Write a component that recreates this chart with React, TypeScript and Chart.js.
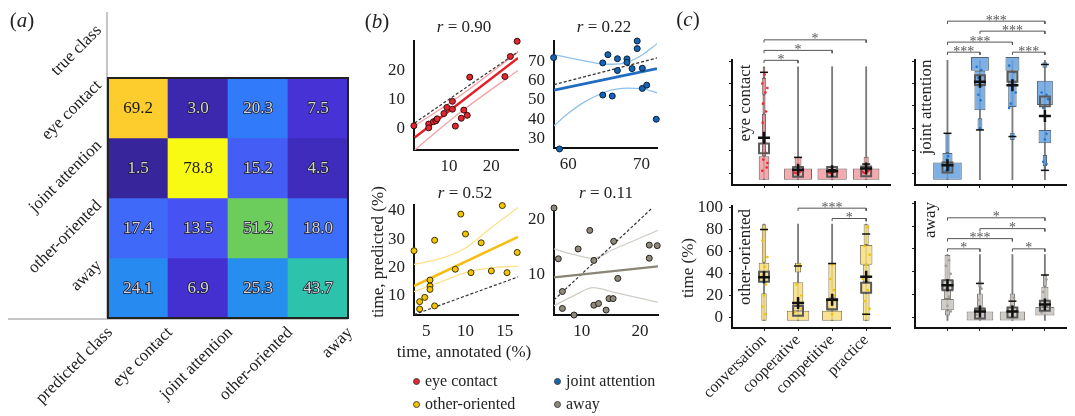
import React, { useEffect, useRef } from 'react';
import { Chart, registerables } from 'chart.js';
Chart.register(...registerables);

const SERIF = '"Liberation Serif", "DejaVu Serif", serif';

// ================= DATA =================
// (a) confusion matrix (row = true class, column = predicted class)
const matrixClasses = ['eye contact', 'joint attention', 'other-oriented', 'away'];
const confusionEye = [69.2, 3.0, 20.3, 7.5];
const confusionJoint = [1.5, 78.8, 15.2, 4.5];
const confusionOther = [17.4, 13.5, 51.2, 18.0];
const confusionAway = [24.1, 6.9, 25.3, 43.7];
const confusionRows = [confusionEye, confusionJoint, confusionOther, confusionAway];

// (b) annotated vs predicted time (%)
const eyeAnnotated = [1.7, 5.2, 5.2, 6.3, 6.9, 7.2, 8.8, 9.5, 10.8, 10.8, 11.5, 12.9, 13.5, 14.3, 14.9, 23.2, 24.5, 26.1];
const eyePredicted = [0.9, 1.5, 0.2, 2.3, 2.6, 3.3, 5.1, 7.2, 9.3, 6.6, 0.8, 3.5, 6.3, 4.5, 17.6, 17.8, 24.7, 29.9];
const eyeFit = [[1.9, -3.1], [26.3, 24.2]];
const eyeCiUpper = [[1.9, 0.9], [12, 10.6], [26.3, 26.2]];
const eyeCiLower = [[1.9, -7.4], [12, 4.8], [26.3, 19.9]];
const eyeIdentity = [1.9, 26.3];

const jointAnnotated = [58.0, 58.8, 64.7, 65.4, 64.7, 66.0, 66.7, 66.7, 68.0, 68.0, 68.7, 69.4, 69.4, 70.1, 70.1, 70.7, 72.0];
const jointPredicted = [72.3, 24.3, 69.5, 73.8, 52.6, 52.1, 71.7, 65.5, 71.6, 69.8, 66.5, 81.0, 77.0, 66.7, 56.1, 57.8, 39.9];
const jointFit = [[58.05, 55.2], [72.1, 66.5]];
const jointCiUpper = [[58.05, 73.8], [61, 71.5], [64, 69.3], [66, 68.8], [68, 69.8], [70, 73.5], [72.1, 79.6]];
const jointCiLower = [[58.05, 36.4], [60, 43], [62, 48.5], [64, 52.5], [66, 55.3], [68, 56.3], [70, 56], [72.1, 53.8]];
const jointIdentity = [58.05, 72.1];

const otherAnnotated = [3.43, 4.15, 4.15, 4.8, 5.47, 5.47, 5.47, 6.06, 6.06, 8.7, 9.4, 10.0, 10.7, 12.0, 13.3, 14.7, 15.3, 16.6];
const otherPredicted = [25.9, 8.0, 5.4, 9.5, 15.6, 13.5, 12.3, 29.6, 6.5, 19.4, 38.8, 31.8, 18.2, 28.7, 18.8, 41.8, 18.2, 25.3];
const otherFit = [[3.43, 13.5], [16.7, 30.8]];
const otherCiUpper = [[3.43, 21.1], [6.9, 23.2], [9.9, 26.7], [12.9, 33.2], [16.7, 41.1]];
const otherCiLower = [[3.43, 11.5], [6.9, 15], [10.3, 18.5], [13.7, 20], [16.7, 20.5]];
const otherIdentity = [3.43, 16.7];

const awayAnnotated = [5.26, 6.0, 6.7, 6.7, 8.7, 9.4, 11.4, 12.1, 12.1, 12.9, 14.2, 14.7, 15.4, 15.5, 16.2, 21.6, 21.6, 22.97];
const awayPredicted = [22.1, 12.8, 6.8, 3.7, 2.5, 14.6, 18.0, 12.5, 4.3, 4.6, 3.4, 5.5, 5.5, 16.0, 9.2, 15.3, 12.9, 15.2];
const awayFit = [[5.26, 9.4], [23.1, 11.4]];
const awayCiUpper = [[5.26, 14.6], [8.6, 13.6], [12, 12.9], [15.4, 14.5], [23.1, 18.0]];
const awayCiLower = [[5.26, 4.2], [8.6, 6.0], [12, 7.5], [15.4, 6.7], [23.1, 4.8]];
const awayIdentity = [5.26, 22.1];

const correlations = ['0.90', '0.22', '0.52', '0.11'];

// (c) time (%) per condition: letter-value boxes [condition, low, high, share]
const conditions = ['conversation', 'cooperative', 'competitive', 'practice'];
const percentTicks = [0, 20, 40, 60, 80, 100];

const eyeBoxes = [
  [0, -6, 15, 0.31], [0, 15, 53, 0.12], [0, 53, 70, 0.09], [0, 70, 85, 0.13], [0, 85, 95, 0.08],
  [1, -6, 4, 0.82], [1, 4, 14, 0.2],
  [2, -6, 4, 0.86],
  [3, -6, 4, 0.78], [3, 4, 14.5, 0.15],
];
const eyeRange = [-6, 95];
const eyeMedians = [22, 1, 1, 1.5];
const eyeMeans = [31.5, 3, 1.5, 4];
const eyeCaps = [[0, 90], [1, 14], [2, 3], [3, 8]];
const eyeObs = [[-0.05, 2], [0.08, 5], [0.1, 9], [-0.02, 12], [0.05, 18], [0.03, 28], [-0.04, 45], [0.06, 55], [-0.03, 62], [0.04, 72], [0.1, 76], [-0.05, 80], [0.02, 88],
  [0.95, 0], [1.05, 1], [1.1, 2], [0.9, 0.5], [1.0, 3], [1.02, 6],
  [1.95, 0], [2.05, 1], [2.1, 2], [1.9, 0.5], [2.0, 1.5],
  [2.95, 0], [3.05, 1.5], [3.1, 3], [2.9, 1], [3.0, 5], [3.02, 2]];
const eyeSig = [[0, 1, 100.7, '*'], [0, 2, 109.6, '*'], [0, 3, 119, '*']];

const jointBoxes = [
  [0, -6, 9.5, 0.88], [0, 9.5, 18, 0.31], [0, 18, 35.5, 0.13],
  [1, 91.3, 103.7, 0.55], [1, 56, 91.3, 0.34], [1, 38.5, 49, 0.15],
  [2, 91.3, 103.7, 0.43], [2, 59, 91.3, 0.26], [2, 29.6, 36, 0.14],
  [3, 94, 99, 0.15], [3, 60.7, 82.4, 0.49], [3, 26.7, 38.5, 0.39], [3, 6, 16, 0.13], [3, 2, 6, 0.08],
];
const jointRange = [-6, 103];
const jointMedians = [5, 83, 86, 64];
const jointMeans = [7, 81.5, 78.5, 51];
const jointCaps = [[0, 35.5], [1, 38.5], [2, 32.6], [3, 97], [3, 2.4]];
const jointObs = [[-0.05, 2], [0.05, 5], [0.1, 8], [-0.02, 12], [0.02, 15], [0.06, 3],
  [0.9, 95], [1.05, 92], [0.95, 85], [1.05, 78], [0.95, 70], [1.02, 65], [1.0, 40],
  [1.9, 96], [2.05, 90], [2.0, 83], [2.1, 72], [1.95, 62], [1.9, 58], [2.0, 33],
  [2.9, 72], [3.05, 70], [3.1, 66], [2.95, 58], [3.05, 35], [3.0, 30], [2.95, 10], [3.05, 8]];
const jointSig = [[0, 1, 108, '***'], [2, 3, 108, '***'], [0, 2, 117, '***'], [1, 3, 126.8, '***'], [0, 3, 135.7, '***']];

const otherBoxes = [
  [0, 49.7, 84.8, 0.13], [0, 32, 49.7, 0.31], [0, -3, 22, 0.16],
  [1, -3, 6, 0.66], [1, 6, 32, 0.31], [1, 41, 49.7, 0.18],
  [2, -3, 6, 0.59], [2, 6, 17.5, 0.34], [2, 17.5, 49, 0.22],
  [3, -3, 22, 0.2], [3, 22, 32, 0.34], [3, 32, 48, 0.2], [3, 48, 66, 0.37], [3, 66, 84.8, 0.15],
];
const otherRange = [-3, 85];
const otherMedians = [37, 6, 12, 27];
const otherMeans = [36.5, 13.2, 16, 37];
const otherCaps = [[0, 80], [1, 46.8], [2, 49], [3, 76], [3, 3]];
const otherObs = [[0.05, 80], [-0.05, 70], [0.1, 55], [0.02, 46], [-0.04, 38], [0.06, 30], [0.0, 20], [-0.05, 10], [0.04, 3],
  [1.05, 48], [0.95, 30], [1.1, 20], [1.0, 10], [0.9, 5], [1.05, 2], [1.1, 8],
  [2.0, 48], [1.95, 35], [2.05, 25], [2.1, 15], [1.9, 8], [2.0, 3], [2.05, 20],
  [3.05, 82], [2.95, 65], [3.1, 57], [3.0, 48], [2.9, 35], [3.05, 25], [2.95, 15], [3.1, 8], [3.0, 3]];
const otherSig = [[1, 3, 99.4, '***'], [2, 3, 90, '*']];

const awayBoxes = [
  [0, 32.5, 54.7, 0.18], [0, 23.7, 32.5, 0.39], [0, 16, 23.7, 0.22], [0, 6, 16, 0.39], [0, 1.5, 6, 0.15],
  [1, -3, 5, 0.82], [1, 5, 9, 0.29], [1, 9, 20.7, 0.18], [1, 26, 32, 0.1],
  [2, -3, 5, 0.78], [2, 5, 9, 0.29], [2, 9, 20.7, 0.16],
  [3, 1.5, 8.9, 0.59], [3, 8.9, 26.6, 0.22], [3, 26.6, 37, 0.12],
];
const awayRange = [-3, 55];
const awayMedians = [28, 3, 4, 10];
const awayMeans = [28, 5, 5, 11];
const awayCaps = [[1, 29.6], [2, 14], [3, 37]];
const awayObs = [[0.05, 50], [-0.05, 45], [0.1, 38], [0.0, 30], [-0.05, 25], [0.05, 18], [0.0, 10], [0.1, 5],
  [1.05, 25], [0.95, 15], [1.1, 8], [1.0, 3], [0.9, 2],
  [2.05, 17], [1.95, 10], [2.1, 5], [2.0, 2],
  [3.05, 33], [2.95, 22], [3.1, 14], [3.0, 8], [2.9, 4]];
const awaySig = [[0, 1, 60, '*'], [2, 3, 60, '*'], [0, 2, 69, '***'], [1, 3, 77.8, '*'], [0, 3, 87.3, '*']];

// ================= STYLE / LAYOUT =================
type Box = { l: number; t: number; w: number; h: number };
type Area = { l: number; t: number; r: number; b: number };

const cmapStops: [number, number[]][] = [
  [0, [55, 38, 155]], [0.02, [60, 40, 175]], [0.08, [70, 50, 215]], [0.155, [70, 82, 242]],
  [0.21, [62, 108, 250]], [0.245, [48, 124, 250]], [0.3, [38, 140, 240]], [0.55, [45, 195, 170]],
  [0.645, [110, 205, 90]], [0.876, [252, 205, 45]], [1, [248, 250, 20]],
];
function cmap(v: number, lo: number, hi: number) {
  const t = Math.max(0, Math.min(1, (v - lo) / (hi - lo)));
  for (let i = 1; i < cmapStops.length; i++) {
    const [t1, c1] = cmapStops[i];
    const [t0, c0] = cmapStops[i - 1];
    if (t <= t1) {
      const f = (t - t0) / (t1 - t0);
      const c = c0.map((a, k) => Math.round(a + (c1[k] - a) * f));
      return `rgb(${c[0]},${c[1]},${c[2]})`;
    }
  }
  return 'rgb(248,250,20)';
}

const pairs = (p: any[]) => p.map((q) => ({ x: q[0], y: q[1] }));
const toXY = (xs: number[], ys: number[]) => xs.map((x, i) => ({ x, y: ys[i] }));

function fixedLayout(canvas: Box, area: Area) {
  return {
    padding: { left: 0, top: area.t - canvas.t, right: canvas.l + canvas.w - area.r, bottom: 0 },
    yWidth: area.l - canvas.l,
    xHeight: canvas.t + canvas.h - area.b,
  };
}

function linAxis(min: number, max: number, ticks: number[], fix: { width?: number; height?: number }, o: any) {
  return {
    type: 'linear',
    min, max, offset: false,
    afterBuildTicks: (s: any) => { s.ticks = ticks.map((v) => ({ value: v })); },
    afterFit: (s: any) => {
      if (fix.width != null) s.width = fix.width;
      if (fix.height != null) s.height = fix.height;
    },
    grid: { display: !!o.marks, offset: false, drawOnChartArea: false, drawTicks: true, tickLength: 3, tickColor: '#222', lineWidth: 1 },
    border: { display: true, color: '#111', width: 2 },
    ticks: {
      display: !!o.labels, font: { family: SERIF, size: o.size ?? 17 }, color: '#222', padding: o.padding ?? 4,
      maxRotation: o.rot ?? 0, minRotation: o.rot ?? 0, autoSkip: false,
      ...(o.callback ? { callback: o.callback } : {}),
    },
  };
}

// ---------- (a) ----------
const matrixCanvas: Box = { l: 0, t: 0, w: 360, h: 416 };
const matrixPlugin = {
  id: 'matrixDecor',
  afterDatasetsDraw(chart: any) {
    const { ctx, chartArea: a, scales } = chart;
    const xs = scales.x, ys = scales.y;
    const colW = xs.getPixelForValue(1) - xs.getPixelForValue(0);
    ctx.save();
    ctx.strokeStyle = '#b4b4b4';
    ctx.lineWidth = 1.5;
    ctx.beginPath();
    ctx.moveTo(a.left - 1, 12); ctx.lineTo(a.left - 1, a.bottom);
    ctx.moveTo(8, a.bottom + 1); ctx.lineTo(a.right, a.bottom + 1);
    ctx.stroke();
    ctx.strokeStyle = '#222';
    ctx.lineWidth = 2;
    ctx.strokeRect(a.left, a.top, a.right - a.left, a.bottom - a.top);
    // cell values
    ctx.font = `17px ${SERIF}`;
    ctx.textAlign = 'center';
    ctx.textBaseline = 'middle';
    chart.data.datasets.forEach((_: any, r: number) => {
      const meta = chart.getDatasetMeta(r);
      meta.data.forEach((el: any, c: number) => {
        const v = confusionRows[r][c];
        const cx = el.x, cy = (el.y + el.base) / 2 + 1;
        const txt = v.toFixed(1);
        if (v > 60) {
          ctx.fillStyle = '#1a1a1a';
          ctx.fillText(txt, cx, cy);
        } else {
          ctx.lineWidth = 1.6;
          ctx.strokeStyle = '#1a1a2a';
          ctx.strokeText(txt, cx, cy);
          ctx.fillStyle = '#d4d4dc';
          ctx.fillText(txt, cx, cy);
        }
      });
    });
    // row labels
    ctx.fillStyle = '#222';
    ctx.textAlign = 'right';
    ctx.textBaseline = 'middle';
    for (let r = -1; r < 4; r++) {
      const label = r < 0 ? 'true class' : matrixClasses[r];
      const top = ys.getPixelForValue(r);
      ctx.save();
      ctx.translate(a.left - 9, top + (r < 0 ? 10 : 5));
      ctx.rotate(-Math.PI / 4);
      ctx.fillText(label, 0, 0);
      ctx.restore();
    }
    // column labels
    for (let c = -1; c < 4; c++) {
      const label = c < 0 ? 'predicted class' : matrixClasses[c];
      const right = xs.getPixelForValue(c) + colW / 2;
      ctx.save();
      ctx.translate(right + 2, a.bottom + 12);
      ctx.rotate(-Math.PI / 4);
      ctx.fillText(label, 0, 0);
      ctx.restore();
    }
    ctx.restore();
  },
};
function matrixConfig() {
  const all = confusionRows.flat();
  const lo = Math.min(...all), hi = Math.max(...all);
  return {
    type: 'bar',
    data: {
      labels: matrixClasses,
      datasets: confusionRows.map((row, r) => ({
        data: row.map(() => [r, r + 1]),
        backgroundColor: row.map((v) => cmap(v, lo, hi)),
        borderWidth: 0,
        barPercentage: 1,
        categoryPercentage: 1,
        grouped: false,
      })),
    },
    options: {
      responsive: false,
      animation: false,
      layout: { padding: { left: 108, top: 78, right: 12, bottom: 98 } },
      plugins: { legend: { display: false }, tooltip: { enabled: false } },
      scales: {
        x: { display: false, offset: true },
        y: { display: false, min: 0, max: 4, reverse: true },
      },
    },
    plugins: [matrixPlugin],
  };
}

// ---------- (b) ----------
const scatterSpecs = [
  {
    canvas: { l: 385, t: 10, w: 150, h: 175 }, area: { l: 414, t: 41, r: 518, b: 150 },
    xr: [1.73, 26.3], yr: [-7.4, 30], xt: [10, 20], yt: [0, 10, 20],
    pts: toXY(eyeAnnotated, eyePredicted), fit: eyeFit, up: eyeCiUpper, lo: eyeCiLower, id: eyeIdentity,
    fill: '#e3262f', edge: '#3a0c0c', fitColor: '#e41f2a', ciColor: '#f4a3a8', fitW: 2.4,
  },
  {
    canvas: { l: 525, t: 10, w: 150, h: 175 }, area: { l: 554, t: 41, r: 657, b: 148 },
    xr: [58.05, 72.1], yr: [24.8, 81], xt: [60, 70], yt: [30, 40, 50, 60, 70],
    pts: toXY(jointAnnotated, jointPredicted), fit: jointFit, up: jointCiUpper, lo: jointCiLower, id: jointIdentity,
    fill: '#1565b5', edge: '#0a1e38', fitColor: '#1f6cc0', ciColor: '#8ec1ec', fitW: 2.6,
  },
  {
    canvas: { l: 385, t: 180, w: 150, h: 160 }, area: { l: 414, t: 205, r: 518, b: 315 },
    xr: [3.43, 16.7], yr: [3.3, 42], xt: [5, 10, 15], yt: [10, 20, 30, 40],
    pts: toXY(otherAnnotated, otherPredicted), fit: otherFit, up: otherCiUpper, lo: otherCiLower, id: otherIdentity,
    fill: '#f4c400', edge: '#3f3300', fitColor: '#f6bd14', ciColor: '#fde08a', fitW: 2.6,
  },
  {
    canvas: { l: 525, t: 180, w: 150, h: 160 }, area: { l: 554, t: 208, r: 658, b: 315 },
    xr: [5.26, 23.1], yr: [2.5, 22.1], xt: [10, 20], yt: [10, 20],
    pts: toXY(awayAnnotated, awayPredicted), fit: awayFit, up: awayCiUpper, lo: awayCiLower, id: awayIdentity,
    fill: '#8f887c', edge: '#26231f', fitColor: '#8a8476', ciColor: '#d0cdc6', fitW: 2.2,
  },
];
function scatterConfig(s: any) {
  const L = fixedLayout(s.canvas, s.area);
  return {
    type: 'scatter',
    data: {
      datasets: [
        { type: 'line', data: pairs(s.up), borderColor: s.ciColor, borderWidth: 1.3, pointRadius: 0, cubicInterpolationMode: 'monotone', order: 6 },
        { type: 'line', data: pairs(s.lo), borderColor: s.ciColor, borderWidth: 1.3, pointRadius: 0, cubicInterpolationMode: 'monotone', order: 5 },
        { type: 'line', data: s.id.map((v: number) => ({ x: v, y: v })), borderColor: '#333', borderDash: [3, 2], borderWidth: 1.2, pointRadius: 0, order: 4 },
        { type: 'line', data: pairs(s.fit), borderColor: s.fitColor, borderWidth: s.fitW, pointRadius: 0, order: 3 },
        { type: 'scatter', data: s.pts, backgroundColor: s.fill, borderColor: s.edge, borderWidth: 1, pointRadius: 3.0, clip: false, order: 1 },
      ],
    },
    options: {
      responsive: false,
      animation: false,
      layout: { padding: L.padding },
      plugins: { legend: { display: false }, tooltip: { enabled: false } },
      scales: {
        x: linAxis(s.xr[0], s.xr[1], s.xt, { height: L.xHeight }, { labels: true, padding: 3 }),
        y: linAxis(s.yr[0], s.yr[1], s.yt, { width: L.yWidth }, { labels: true, padding: 6 }),
      },
    },
  };
}

// ---------- (c) ----------
const boxenSpecs = [
  {
    canvas: { l: 700, t: 0, w: 200, h: 200 }, area: { l: 732, t: 60, r: 890, b: 185 }, xr: [-0.94, 3.7], yr: [-10.7, 101],
    boxes: eyeBoxes, range: eyeRange, medians: eyeMedians, means: eyeMeans, caps: eyeCaps, obs: eyeObs, sig: eyeSig,
    fill: 'rgba(242,152,158,0.82)', edge: '#7a5e5e', dot: '#ee2530', yLabels: false, xLabels: false,
  },
  {
    canvas: { l: 900, t: 0, w: 175, h: 200 }, area: { l: 915, t: 60, r: 1073, b: 185 }, xr: [-1.0, 3.65], yr: [-10.7, 101],
    boxes: jointBoxes, range: jointRange, medians: jointMedians, means: jointMeans, caps: jointCaps, obs: jointObs, sig: jointSig,
    fill: 'rgba(104,162,222,0.85)', edge: '#4f6478', dot: '#1f78d1', yLabels: false, xLabels: false,
  },
  {
    canvas: { l: 660, t: 190, w: 240, h: 226 }, area: { l: 732, t: 202, r: 890, b: 328 }, xr: [-0.94, 3.7], yr: [-9.6, 101.2],
    boxes: otherBoxes, range: otherRange, medians: otherMedians, means: otherMeans, caps: otherCaps, obs: otherObs, sig: otherSig,
    fill: 'rgba(247,222,128,0.85)', edge: '#857a55', dot: '#f2c200', yLabels: true, xLabels: true,
  },
  {
    canvas: { l: 900, t: 190, w: 175, h: 226 }, area: { l: 915, t: 202, r: 1073, b: 328 }, xr: [-1.0, 3.65], yr: [-9.6, 101.2],
    boxes: awayBoxes, range: awayRange, medians: awayMedians, means: awayMeans, caps: awayCaps, obs: awayObs, sig: awaySig,
    fill: 'rgba(202,198,192,0.88)', edge: '#7f7b76', dot: '#a39d93', yLabels: false, xLabels: false,
  },
];
const starPlugin = (sig: any[]) => ({
  id: 'stars',
  afterDatasetsDraw(chart: any) {
    const { ctx, scales } = chart;
    ctx.save();
    ctx.font = `14px ${SERIF}`;
    ctx.fillStyle = '#555';
    ctx.textAlign = 'center';
    ctx.textBaseline = 'alphabetic';
    sig.forEach(([a, b, lvl, label]) => {
      const x = (scales.x.getPixelForValue(a) + scales.x.getPixelForValue(b)) / 2;
      ctx.fillText(label, x, scales.y.getPixelForValue(lvl) + 3.5);
    });
    ctx.restore();
  },
});
function boxenConfig(s: any) {
  const L = fixedLayout(s.canvas, s.area);
  const cats = conditions.map((_, i) => i);
  const datasets: any[] = [];
  datasets.push({ type: 'bar', data: cats.map((c) => ({ x: c, y: s.range })), backgroundColor: '#7c7c7c', barThickness: 1.2, grouped: false, order: 30 });
  s.boxes.forEach((b: number[]) => {
    datasets.push({
      type: 'bar', data: [{ x: b[0], y: [b[1], b[2]] }], backgroundColor: s.fill, borderColor: s.edge,
      borderWidth: 1, borderSkipped: false, barPercentage: b[3], categoryPercentage: 1, grouped: false, clip: false, order: 20,
    });
  });
  datasets.push({ type: 'scatter', data: pairs(s.obs), pointRadius: 1.3, borderWidth: 0, backgroundColor: s.dot, order: 8 });
  datasets.push({ type: 'scatter', data: s.medians.map((m: number, c: number) => ({ x: c, y: m })), pointStyle: 'rect', pointRadius: 7, borderColor: '#5a5a5a', borderWidth: 2, backgroundColor: 'rgba(0,0,0,0)', order: 6 });
  datasets.push({ type: 'scatter', data: pairs(s.caps), pointStyle: 'line', pointRadius: 4, borderColor: '#111', borderWidth: 1.5, order: 4 });
  datasets.push({ type: 'scatter', data: s.means.map((m: number, c: number) => ({ x: c, y: m })), pointStyle: 'cross', pointRadius: 6, borderColor: '#111', borderWidth: 2.5, order: 2 });
  s.sig.forEach(([a, b, lvl]: any[]) => {
    datasets.push({ type: 'line', data: [{ x: a, y: lvl - 2.5 }, { x: a, y: lvl }, { x: b, y: lvl }, { x: b, y: lvl - 2.5 }], borderColor: '#555', borderWidth: 1, pointRadius: 0, clip: false, order: 1 });
  });
  return {
    type: 'bar',
    data: { datasets },
    options: {
      responsive: false,
      animation: false,
      layout: { padding: L.padding },
      plugins: { legend: { display: false }, tooltip: { enabled: false } },
      scales: {
        x: linAxis(s.xr[0], s.xr[1], cats, { height: L.xHeight }, {
          marks: true, labels: s.xLabels, padding: 0, rot: 45, size: 16, callback: (v: number) => conditions[v],
        }),
        y: linAxis(s.yr[0], s.yr[1], percentTicks, { width: L.yWidth }, { marks: true, labels: s.yLabels, padding: 6 }),
      },
    },
    plugins: [starPlugin(s.sig)],
  };
}

// ================= COMPONENTS =================
function ChartBox({ box, make }: { box: Box; make: () => any }) {
  const ref = useRef<HTMLCanvasElement>(null);
  useEffect(() => {
    const chart = new Chart(ref.current as HTMLCanvasElement, make());
    return () => chart.destroy();
  }, []);
  return (
    <div style={{ position: 'absolute', left: box.l, top: box.t, width: box.w, height: box.h }}>
      <canvas ref={ref} width={box.w} height={box.h} style={{ width: box.w, height: box.h, display: 'block' }} />
    </div>
  );
}

function Txt({ x, y, rot = 0, size = 17, left = false, children }: any) {
  return (
    <div
      style={{
        position: 'absolute', left: x, top: y, whiteSpace: 'nowrap', lineHeight: 1,
        transform: left ? 'translate(0,-50%)' : `translate(-50%,-50%) rotate(${rot}deg)`,
        font: `${size}px ${SERIF}`, color: '#222',
      }}
    >
      {children}
    </div>
  );
}

const legendItems = [
  { label: 'eye contact', color: '#e3262f', x: 416, y: 381 },
  { label: 'joint attention', color: '#1565b5', x: 557, y: 381 },
  { label: 'other-oriented', color: '#f4c400', x: 416, y: 404 },
  { label: 'away', color: '#8f887c', x: 557, y: 404 },
];
const rTitles = [[464, 27], [604, 27], [465, 193], [606, 193]];

export default function App() {
  return (
    <div style={{ position: 'absolute', left: 0, top: 0, width: 1075, height: 416, background: '#fff', overflow: 'hidden' }}>
      <ChartBox box={matrixCanvas} make={matrixConfig} />
      {scatterSpecs.map((s, i) => (
        <ChartBox key={'s' + i} box={s.canvas} make={() => scatterConfig(s)} />
      ))}
      {boxenSpecs.map((s, i) => (
        <ChartBox key={'b' + i} box={s.canvas} make={() => boxenConfig(s)} />
      ))}

      <Txt x={22} y={20} size={21}>(<i>a</i>)</Txt>
      <Txt x={377} y={21} size={21}>(<i>b</i>)</Txt>
      <Txt x={688} y={19} size={21}>(<i>c</i>)</Txt>

      {rTitles.map((p, i) => (
        <Txt key={'r' + i} x={p[0]} y={p[1]}><i>r</i> = {correlations[i]}</Txt>
      ))}
      <Txt x={378} y={252} rot={-90}>time, predicted (%)</Txt>
      <Txt x={464} y={352}>time, annotated (%)</Txt>
      <Txt x={688} y={268} rot={-90}>time (%)</Txt>

      <Txt x={745} y={103} rot={-90}>eye contact</Txt>
      <Txt x={926} y={107} rot={-90}>joint attention</Txt>
      <Txt x={745} y={257} rot={-90}>other-oriented</Txt>
      <Txt x={930} y={220} rot={-90}>away</Txt>

      {legendItems.map((it) => (
        <React.Fragment key={it.label}>
          <div style={{ position: 'absolute', left: it.x - 3.5, top: it.y - 3.5, width: 5, height: 5, borderRadius: '50%', background: it.color, border: '1px solid #444' }} />
          <Txt x={it.x + 9} y={it.y} size={16} left>{it.label}</Txt>
        </React.Fragment>
      ))}
    </div>
  );
}
